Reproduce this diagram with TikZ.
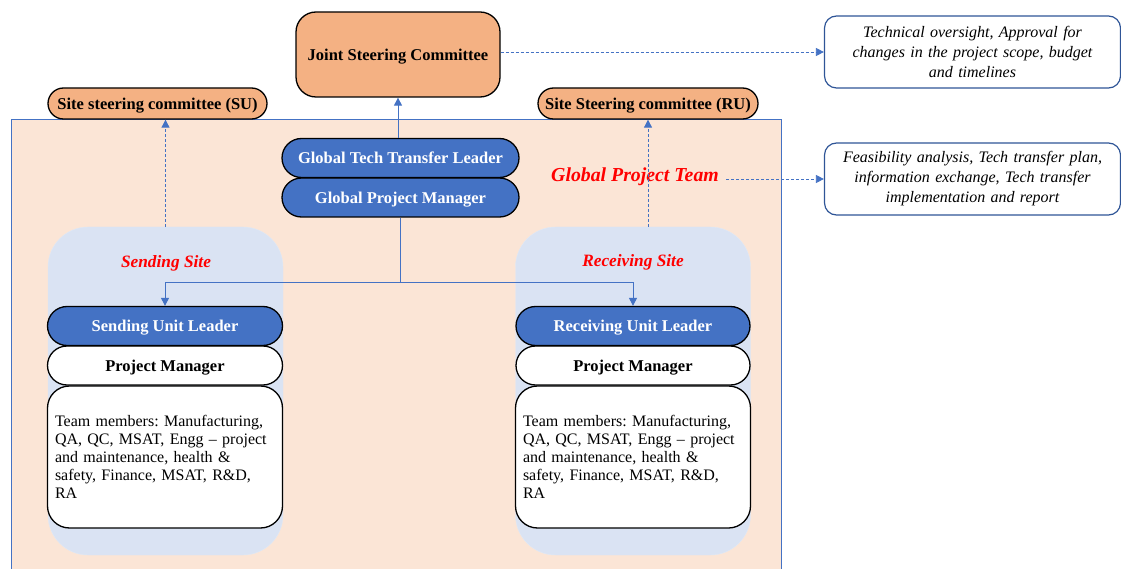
\documentclass[tikz,border=0pt]{standalone}
\usepackage{fontspec}
\setmainfont{Liberation Serif}
\usetikzlibrary{arrows.meta}
\definecolor{peach}{HTML}{FBE5D6}
\definecolor{orangefill}{HTML}{F4B183}
\definecolor{bluefill}{HTML}{4472C4}
\definecolor{lightblue}{HTML}{DAE3F3}
\definecolor{framecol}{HTML}{4472C4}
\definecolor{boxborder}{HTML}{2F5597}
\definecolor{conncol}{HTML}{4472C4}
\definecolor{redtext}{HTML}{FF0000}
\frenchspacing
\begin{document}
\begin{tikzpicture}[x=1pt,y=-1pt,
  pill/.style={draw=black, line width=1.3pt, rounded corners=19.5pt, minimum height=39pt, inner sep=0pt, text depth=0pt, font=\fontsize{16.5}{18}\selectfont\bfseries},
  bluepill/.style={pill, fill=bluefill, text=white},
  whitepill/.style={pill, fill=white, text=black},
  orangepill/.style={pill, fill=orangefill, minimum height=31pt, rounded corners=15.5pt},
  sitebg/.style={fill=lightblue, draw=lightblue!80!white, rounded corners=40pt, minimum width=235pt, minimum height=328pt, inner sep=0pt},
  teambox/.style={draw=black, line width=1.3pt, fill=white, rounded corners=22pt, minimum width=235pt, minimum height=142pt, text width=220pt, align=left, inner sep=0pt, font=\fontsize{16}{18}\selectfont},
  infobox/.style={draw=boxborder, line width=1.2pt, fill=white, rounded corners=12pt, minimum width=296pt, minimum height=72pt, text width=290pt, align=center, inner sep=0pt, font=\fontsize{16}{20}\selectfont\itshape},
  sitelabel/.style={text=redtext, font=\fontsize{17.3}{19}\selectfont\bfseries\itshape},
  conn/.style={draw=conncol, line width=1pt, -{Triangle[length=8pt,width=8pt]}},
  dconn/.style={draw=conncol, line width=0.8pt, dash pattern=on 3pt off 2pt, -{Triangle[length=8pt,width=8pt]}}
]
\useasboundingbox (0,0) rectangle (1121,569);

% Global project team background
\node[fill=peach, draw=framecol, line width=1.2pt, anchor=north west, minimum width=770pt, minimum height=470pt, inner sep=0pt] (team) at (11,119) {};

% top committees
\node[fill=orangefill, draw=black, line width=1.3pt, rounded corners=20pt, minimum width=204pt, minimum height=85pt, inner sep=0pt, text depth=0pt, font=\fontsize{16.5}{18}\selectfont\bfseries] (jsc) at (398,54.5) {Joint Steering Committee};
\node[orangepill, minimum width=219pt] (su) at (157.5,103.5) {Site steering committee (SU)};
\node[orangepill, minimum width=220pt] (ru) at (648,103.5) {Site Steering committee (RU)};

% global leaders
\node[bluepill, minimum width=237pt] (gpm) at (400.5,197.5) {Global Project Manager};
\node[bluepill, minimum width=237pt] (gttl) at (400.5,158) {Global Tech Transfer Leader};

\node[sitelabel, font=\fontsize{19.8}{22}\selectfont\bfseries\itshape] (gpt) at (635,177) {Global Project Team};

% sites
\node[sitebg] (ss) at (165.5,391) {};
\node[sitebg] (rs) at (633,391) {};
\node[sitelabel] (sslab) at (166,263) {Sending Site};
\node[sitelabel] (rslab) at (633,262) {Receiving Site};

\node[teambox] (st) at (165,457) {Team members: Manufacturing,\\QA, QC, MSAT, Engg -- project\\and maintenance, health \&\\safety, Finance, MSAT, R\&D,\\RA};
\node[whitepill, minimum width=235pt] (spm) at (165,365.5) {Project Manager};
\node[bluepill, minimum width=235pt] (sul) at (165,326) {Sending Unit Leader};

\node[teambox] (rt) at (633,457) {Team members: Manufacturing,\\QA, QC, MSAT, Engg -- project\\and maintenance, health \&\\safety, Finance, MSAT, R\&D,\\RA};
\node[whitepill, minimum width=234pt] (rpm) at (633,365.5) {Project Manager};
\node[bluepill, minimum width=234pt] (rul) at (633,326) {Receiving Unit Leader};

% info boxes
\node[infobox] (box1) at (972.5,52) {Technical oversight, Approval for\\changes in the project scope, budget\\and timelines};
\node[infobox] (box2) at (972.5,179) {Feasibility analysis, Tech transfer plan,\\information exchange, Tech transfer\\implementation and report};

% connectors
\coordinate (bus) at (400.5,282);
\draw[conn] (gttl.north -| jsc.south) -- (jsc.south);
\draw[conn] (gpm.south) -- (bus) -| (sul.north);
\draw[conn] (bus) -| (rul.north);
\draw[dconn] (ss.north) -- (ss.north |- su.south);
\draw[dconn] (rs.north -| ru.south) -- (ru.south);
\draw[dconn] (box1.west -| jsc.east) -- (box1.west);
\draw[dconn, shorten <=4pt] (box2.west -| gpt.east) -- (box2.west);
\end{tikzpicture}
\end{document}
